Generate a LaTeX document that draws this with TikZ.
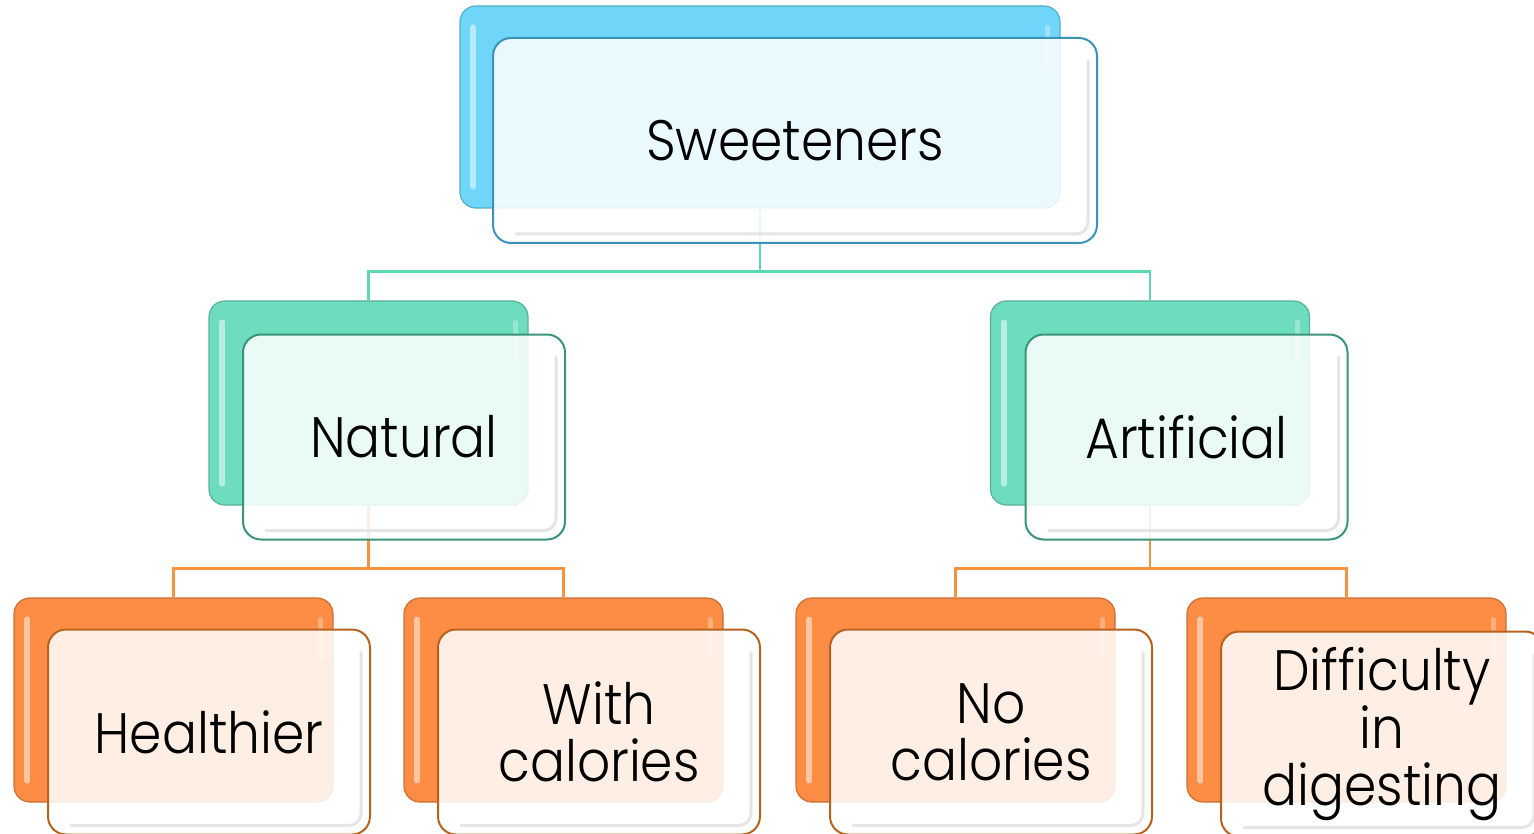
\documentclass[tikz,border=0pt]{standalone}
\usepackage{fontspec}
\setmainfont{Poppins}[UprightFont={* Light}, FakeStretch=0.91]
\usetikzlibrary{calc}
\definecolor{blueB}{HTML}{6FD6FA}
\definecolor{blueD}{HTML}{3C93B8}
\definecolor{greenB}{HTML}{6EDDBF}
\definecolor{greenD}{HTML}{3A9479}
\definecolor{orangeB}{HTML}{FD8C44}
\definecolor{orangeD}{HTML}{B8621F}
\definecolor{tealL}{HTML}{5CD8B6}
\definecolor{orangeL}{HTML}{F7933F}
\tikzset{
  backbox/.style={draw=#1!80!black, fill=#1, line width=1.2pt, rounded corners=16pt,
    minimum width=319pt, minimum height=204pt, inner sep=0pt},
  frontbox/.style={draw=#1, fill=white, fill opacity=0.86, text opacity=1, line width=2pt,
    rounded corners=18pt, minimum width=322pt, minimum height=205pt, inner sep=0pt,
    align=center, font=\fontsize{57}{57}\selectfont},
  conn/.style={line width=2.5pt, draw=#1},
  hl/.style={white, opacity=0.5, line width=6pt, line cap=round},
  innershade/.style={black!10, line width=3pt, rounded corners=12pt, line cap=round},
}
\newcommand{\glossback}[1]{%
  \draw[hl] ($(#1.north west)+(14,22)$) -- ($(#1.south west)+(14,-22)$);
  \draw[white, opacity=0.3, line width=5pt, line cap=round] ($(#1.north east)+(-13,22)$) -- ($(#1.north east)+(-13,60)$);
}
\newcommand{\glossfront}[1]{%
  \draw[innershade] ($(#1.north east)+(-10,24)$) -- ($(#1.south east)+(-10,-10)$) -- ($(#1.south west)+(24,-10)$);
}
\begin{document}
\begin{tikzpicture}[x=1pt,y=-1pt]
\useasboundingbox (0,0) rectangle (1534,834);
% back boxes
\node[backbox=blueB, minimum width=600pt, minimum height=202pt] (topB) at (760,107) {};
\node[backbox=greenB] (natB) at (368.5,403) {};
\node[backbox=greenB] (artB) at (1150,403) {};
\node[backbox=orangeB] (heaB) at (173.5,700) {};
\node[backbox=orangeB] (witB) at (563.5,700) {};
\node[backbox=orangeB] (nocB) at (955.5,700) {};
\node[backbox=orangeB] (difB) at (1346.5,700) {};
\glossback{topB}\glossback{natB}\glossback{artB}
\glossback{heaB}\glossback{witB}\glossback{nocB}\glossback{difB}
% connectors
\draw[conn=tealL] (topB.south) -- ++(0,63) -| (natB.north);
\draw[conn=tealL] (topB.south) -- ++(0,63) -| (artB.north);
\draw[conn=orangeL] (natB.south) -- ++(0,63) -| (heaB.north);
\draw[conn=orangeL] (natB.south) -- ++(0,63) -| (witB.north);
\draw[conn=orangeL] (artB.south) -- ++(0,63) -| (nocB.north);
\draw[conn=orangeL] (artB.south) -- ++(0,63) -| (difB.north);
% front boxes
\node[frontbox=blueD, minimum width=604pt] (topF) at (795,140.5) {Sweeteners};
\node[frontbox=greenD] (natF) at (404,437) {Natural};
\node[frontbox=greenD] (artF) at (1186.5,437) {Artificial};
\node[frontbox=orangeD] (heaF) at (209,732) {Healthier};
\node[frontbox=orangeD] (witF) at (599,732) {With\\calories};
\node[frontbox=orangeD] (nocF) at (991,732) {No\\calories};
\node[frontbox=orangeD] (difF) at (1382,734) {Difficulty\\in\\digesting};
\glossfront{topF}\glossfront{natF}\glossfront{artF}
\glossfront{heaF}\glossfront{witF}\glossfront{nocF}\glossfront{difF}
\end{tikzpicture}
\end{document}
